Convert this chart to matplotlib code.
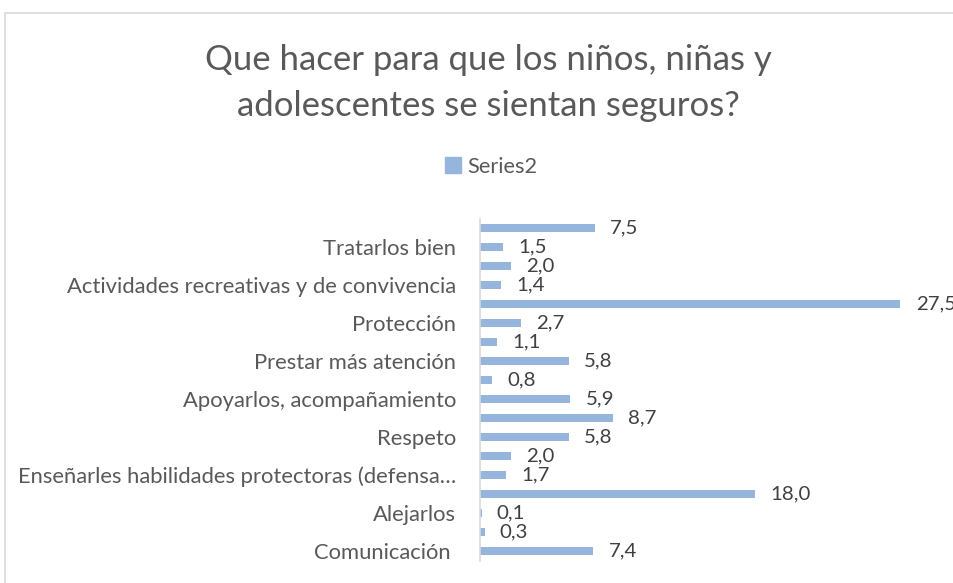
import matplotlib
matplotlib.use("Agg")
import matplotlib.pyplot as plt
from matplotlib.patches import Rectangle, Patch

# Data (bottom to top, as in the chart)
categories = [
    "Comunicación ", "", "Alejarlos", "", "Enseñarles habilidades protectoras (defensa…", "",
    "Respeto", "", "Apoyarlos, acompañamiento", "", "Prestar más atención", "",
    "Protección", "", "Actividades recreativas y de convivencia", "", "Tratarlos bien", "",
]
values = [7.4, 0.3, 0.1, 18.0, 1.7, 2.0, 5.8, 8.7, 5.9, 0.8, 5.8, 1.1, 2.7, 27.5, 1.4, 2.0, 1.5, 7.5]
series_name = "Series2"
title = "Que hacer para que los niños, niñas y\nadolescentes se sientan seguros?"

plt.rcParams['font.family'] = ['Lato', 'DejaVu Sans']
TXT = "#595959"
BAR = "#95b5dc"

W, H = 954, 583
fig = plt.figure(figsize=(W / 100, H / 100), dpi=100)
fig.patch.set_facecolor("white")

# chart frame
fig.patches.append(Rectangle((5 / W, -0.1), 1.2, 1 - 13 / H + 0.1, transform=fig.transFigure,
                             fill=False, edgecolor="#d9d9d9", linewidth=1.2))

left, right = 480 / W, 1.0
top_px, bot_px = 218.5, 560.5
ax = fig.add_axes([left, 1 - bot_px / H, right - left, (bot_px - top_px) / H])
ypos = list(range(len(values)))
ax.barh(ypos, values, height=0.4, color=BAR)
ax.set_xlim(0, 31)
ax.set_ylim(-0.5, len(values) - 0.5)
ax.set_yticks(ypos)
ax.set_yticklabels(categories, fontsize=15.8, color=TXT)
ax.tick_params(axis="y", length=0, pad=17)
ax.set_xticks([])
for s in ["top", "right", "bottom"]:
    ax.spines[s].set_visible(False)
ax.spines["left"].set_color("#d9d9d9")
ax.spines["left"].set_linewidth(1.2)

for y, v in zip(ypos, values):
    ax.annotate(f"{v:.1f}".replace(".", ","), xy=(v, y), xytext=(11, 0), textcoords="offset points",
                va="center", ha="left", fontsize=14.7, color="#404040", annotation_clip=False)

fig.text(0.512, 1 - 83 / H, title, ha="center", va="center", fontsize=25, color=TXT,
         linespacing=1.5)

fig.legend(handles=[Patch(color=BAR, label=series_name)], loc="center",
           bbox_to_anchor=(0.515, 1 - 167 / H), frameon=False, fontsize=15.7,
           labelcolor=TXT, handlelength=0.75, handleheight=0.75, handletextpad=0.3)

fig.savefig("out.png", dpi=100)
